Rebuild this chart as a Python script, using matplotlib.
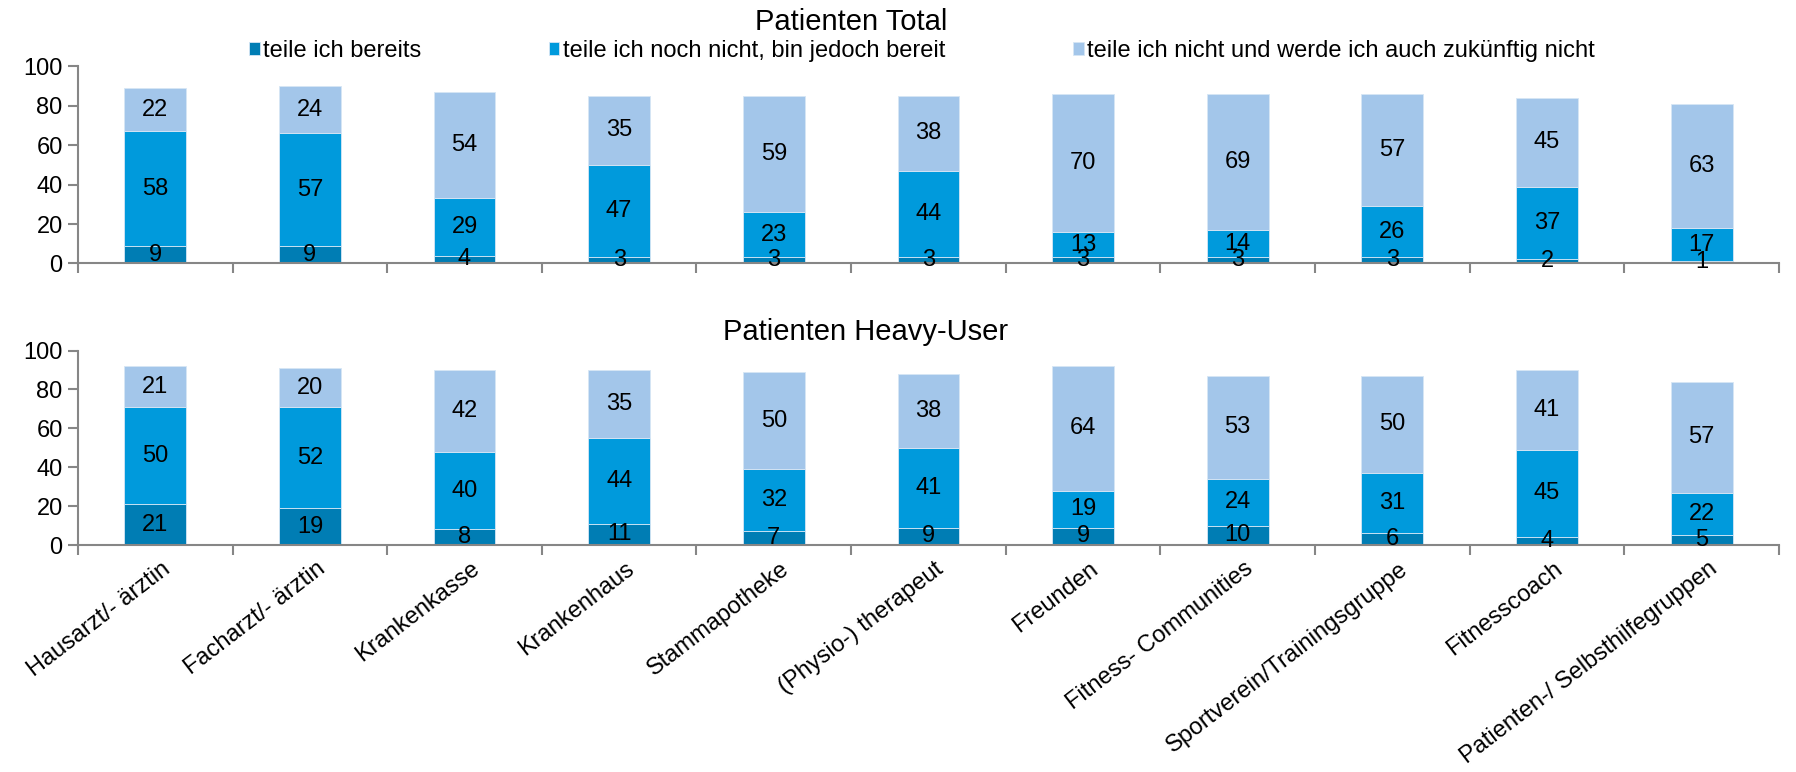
import matplotlib
matplotlib.use('Agg')
import matplotlib.pyplot as plt
import matplotlib.transforms as mtransforms
import numpy as np

plt.rcParams['font.family'] = ['Liberation Sans', 'DejaVu Sans']

kategorien = ['Hausarzt/- ärztin', 'Facharzt/- ärztin', 'Krankenkasse', 'Krankenhaus',
              'Stammapotheke', '(Physio-) therapeut', 'Freunden', 'Fitness- Communities',
              'Sportverein/Trainingsgruppe', 'Fitnesscoach', 'Patienten-/ Selbsthilfegruppen']

serien = ['teile ich bereits', 'teile ich noch nicht, bin jedoch bereit',
          'teile ich nicht und werde ich auch zukünftig nicht']

# Patienten Total
total_bereits = [9, 9, 4, 3, 3, 3, 3, 3, 3, 2, 1]
total_bereit = [58, 57, 29, 47, 23, 44, 13, 14, 26, 37, 17]
total_nicht = [22, 24, 54, 35, 59, 38, 70, 69, 57, 45, 63]

# Patienten Heavy-User
heavy_bereits = [21, 19, 8, 11, 7, 9, 9, 10, 6, 4, 5]
heavy_bereit = [50, 52, 40, 44, 32, 41, 19, 24, 31, 45, 22]
heavy_nicht = [21, 20, 42, 35, 50, 38, 64, 53, 50, 41, 57]

farben = ['#007DB4', '#009ADC', '#A3C6EA']
grau = '#868686'


def zeichne(ax, reihen, mit_labels):
    x = np.arange(len(kategorien))
    unten = np.zeros(len(kategorien))
    for werte, farbe, name in zip(reihen, farben, serien):
        werte = np.array(werte)
        ax.bar(x, werte, 0.4, bottom=unten, color=farbe, label=name,
               edgecolor='#D6E6F5', linewidth=0.6)
        for xi, u, w in zip(x, unten, werte):
            ax.text(xi, u + w / 2, str(w), ha='center', va='center', fontsize=17, color='black')
        unten = unten + werte
    ax.set_xlim(-0.5, len(kategorien) - 0.5)
    ax.set_ylim(0, 100)
    ax.set_yticks(np.arange(0, 101, 20))
    ax.tick_params(axis='y', labelsize=17, length=7, width=1.5, color=grau, pad=4)
    ax.set_xticks(np.arange(-0.5, len(kategorien), 1), minor=True)
    ax.tick_params(axis='x', which='minor', length=7, width=1.5, color=grau)
    ax.set_xticks(x)
    ax.tick_params(axis='x', which='major', length=0)
    if mit_labels:
        ax.set_xticklabels(kategorien, rotation=37.5, ha='right', va='top',
                           rotation_mode='anchor', fontsize=17)
        verschiebung = mtransforms.ScaledTranslation(6 / 100, -8 / 100, ax.figure.dpi_scale_trans)
        for lab in ax.get_xticklabels():
            lab.set_transform(lab.get_transform() + verschiebung)
    else:
        ax.set_xticklabels([])
    for s in ['top', 'right']:
        ax.spines[s].set_visible(False)
    for s in ['left', 'bottom']:
        ax.spines[s].set_color(grau)
        ax.spines[s].set_linewidth(1.5)


fig = plt.figure(figsize=(17.96, 7.72), dpi=100)
ax1 = fig.add_axes([0.0434, 0.6588, 0.9471, 0.2552])
ax2 = fig.add_axes([0.0434, 0.2940, 0.9471, 0.2519])

zeichne(ax1, [total_bereits, total_bereit, total_nicht], False)
zeichne(ax2, [heavy_bereits, heavy_bereit, heavy_nicht], True)

fig.text(0.474, 0.972, 'Patienten Total', ha='center', va='center', fontsize=21)
fig.text(0.482, 0.570, 'Patienten Heavy-User', ha='center', va='center', fontsize=21)

handles, labels = ax1.get_legend_handles_labels()
fig.legend(handles, labels, loc='center left', bbox_to_anchor=(0.1386, 0.934), ncol=3,
           frameon=False, fontsize=17, handlelength=0.45, handleheight=0.45,
           handletextpad=0.15, columnspacing=5.4, borderpad=0, borderaxespad=0)

fig.savefig('out.png', dpi=100)
